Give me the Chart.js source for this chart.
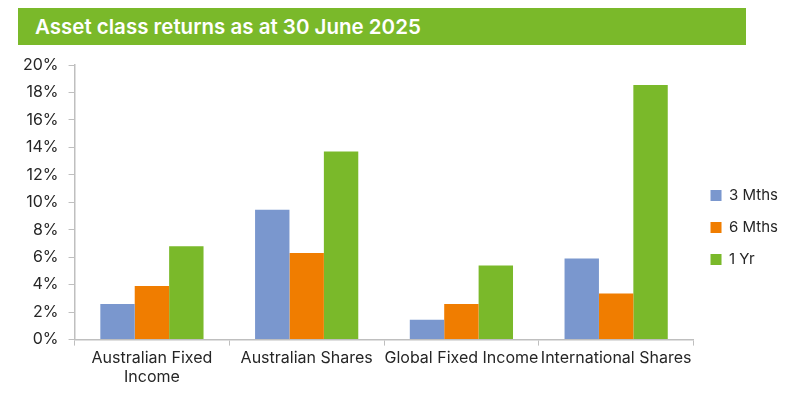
<!DOCTYPE html>
<html>
<head>
<meta charset="utf-8">
<script src="https://cdn.jsdelivr.net/npm/chart.js@4"></script>
<style>
  body { margin: 0; background: #fff; }
  #wrap { position: relative; width: 794px; height: 397px; }
  #banner {
    position: absolute; left: 18px; top: 8px; width: 728px; height: 37px;
    background: #7AB92A; color: #fff; font-family: Inter, sans-serif;
    font-weight: 600; font-size: 20.5px; line-height: 37px; padding-left: 17px;
    box-sizing: border-box;
  }
  canvas { position: absolute; left: 0; top: 0; }
</style>
</head>
<body>
<div id="wrap">
  <canvas id="grafico" width="794" height="397"></canvas>
  <div id="banner">Asset class returns as at 30 June 2025</div>
</div>
<script>
const categorias = [["Australian Fixed", "Income"], "Australian Shares", "Global Fixed Income", "International Shares"];
const tresMeses = [2.6, 9.45, 1.45, 5.9];
const seisMeses = [3.9, 6.3, 2.6, 3.35];
const umAno = [6.8, 13.7, 5.4, 18.55];
const yTicks = [0, 2, 4, 6, 8, 10, 12, 14, 16, 18, 20];

const fonte = { family: "Inter, sans-serif", size: 16 };
const ctx = document.getElementById("grafico").getContext("2d");

new Chart(ctx, {
    type: "bar",
    data: {
        labels: categorias,
        datasets: [
            { label: "3 Mths", backgroundColor: "#7A97CE", data: tresMeses },
            { label: "6 Mths", backgroundColor: "#F07D00", data: seisMeses },
            { label: "1 Yr", backgroundColor: "#7AB92A", data: umAno },
        ],
    },
    options: {
        responsive: false,
        animation: false,
        layout: { padding: { top: 65, left: 13, right: 6, bottom: 7 } },
        datasets: {
            bar: { categoryPercentage: 0.667, barPercentage: 1, borderWidth: 0 },
        },
        scales: {
            x: {
                grid: { drawOnChartArea: false, tickLength: 6, color: "#BFBFBF" },
                border: { color: "#BFBFBF", width: 1.5 },
                ticks: { font: fonte, color: "#262626", maxRotation: 0, autoSkip: false, padding: 3 },
            },
            y: {
                min: 0,
                max: 20,
                afterBuildTicks: (axis) => { axis.ticks = yTicks.map((v) => ({ value: v })); },
                grid: { drawOnChartArea: false, tickLength: 6, color: "#BFBFBF" },
                border: { color: "#BFBFBF", width: 1.5 },
                ticks: { font: fonte, color: "#262626", padding: 10, callback: (v) => v + "%" },
            },
        },
        plugins: {
            legend: {
                position: "right",
                labels: { font: { family: "Inter, sans-serif", size: 15 }, color: "#262626", boxWidth: 11, boxHeight: 11, padding: 17 },
            },
            tooltip: { enabled: false },
        },
    },
});
</script>
</body>
</html>
